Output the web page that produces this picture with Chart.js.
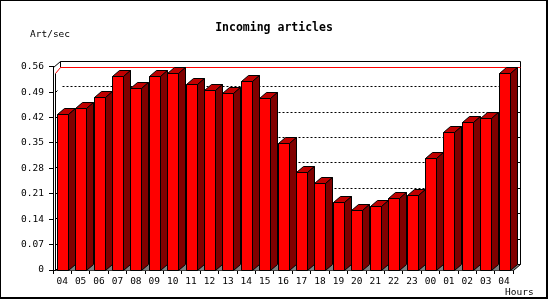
<!DOCTYPE html>
<html>
<head>
<meta charset="utf-8">
<script src="https://cdn.jsdelivr.net/npm/chart.js@4/dist/chart.umd.min.js"></script>
<style>
  html, body { margin: 0; padding: 0; background: #fff; }
  canvas { display: block; }
</style>
</head>
<body>
<canvas id="c" width="550" height="300"></canvas>
<script>
const chartTitle = 'Incoming articles';
const yAxisLabel = 'Art/sec';
const xAxisLabel = 'Hours';
const hours = ['04','05','06','07','08','09','10','11','12','13','14','15','16','17','18','19','20','21','22','23','00','01','02','03','04'];
const artPerSec = [0.429,0.445,0.477,0.535,0.500,0.535,0.542,0.511,0.496,0.487,0.520,0.473,0.351,0.269,0.241,0.186,0.164,0.175,0.197,0.206,0.308,0.379,0.407,0.420,0.542];
const yTickValues = [0,0.07,0.14,0.21,0.28,0.35,0.42,0.49,0.56];
const yTickLabels = ['0','0.07','0.14','0.21','0.28','0.35','0.42','0.49','0.56'];

const DX = 7, DY = -6;
const MONO = '"DejaVu Sans Mono", monospace';

function poly(ctx, pts, fill, stroke) {
  ctx.beginPath();
  ctx.moveTo(pts[0][0], pts[0][1]);
  for (let i = 1; i < pts.length; i++) ctx.lineTo(pts[i][0], pts[i][1]);
  ctx.closePath();
  if (fill) { ctx.fillStyle = fill; ctx.fill(); }
  if (stroke) { ctx.strokeStyle = stroke; ctx.lineWidth = 1; ctx.stroke(); }
}
function line(ctx, x1, y1, x2, y2, color) {
  ctx.beginPath();
  ctx.moveTo(x1, y1); ctx.lineTo(x2, y2);
  ctx.strokeStyle = color; ctx.lineWidth = 1; ctx.stroke();
}

const threeD = {
  id: 'threeD',
  beforeDraw(chart) {
    const ctx = chart.ctx;
    ctx.save();
    ctx.fillStyle = '#fff';
    ctx.fillRect(0, 0, chart.width, chart.height);
    ctx.restore();
  },
  beforeDatasetsDraw(chart) {
    const { ctx, chartArea: a, scales: { y } } = chart;
    const L = Math.round(a.left) + 2.5, R = Math.round(a.right) + 0.5;
    const T = Math.round(a.top) + 0.5, B = Math.round(a.bottom) + 0.5;
    ctx.save();
    // floor
    poly(ctx, [[L - 0.5, B], [R, B], [R + DX, B + DY], [L + DX, B + DY]], '#808080', null);
    // dotted grid on back wall
    ctx.setLineDash([2, 2]);
    yTickValues.slice(1, -1).forEach(v => {
      const py = Math.round(y.getPixelForValue(v) + DY) + 0.5;
      line(ctx, L + DX, py, R + DX, py, '#000');
    });
    ctx.setLineDash([]);
    // right wall ticks and left small diagonals
    yTickValues.slice(0, -1).forEach(v => {
      const py = Math.round(y.getPixelForValue(v)) + 0.5;
      line(ctx, R + DX - 3, py + DY, R + DX, py + DY, '#000');
      line(ctx, L, py, L + 2, py - 2, '#000');
    });
    // back frame
    line(ctx, L + DX - 2, T + DY, R + DX, T + DY, '#000');
    line(ctx, R + DX, T + DY, R + DX, B + DY, '#000');
    line(ctx, R, B, R + DX, B + DY, '#000');
    line(ctx, Math.round(a.left) + 0.5, T, L + DX - 2, T + DY, '#000');
    line(ctx, L + DX - 2, T + DY, L + DX - 2, T, '#000');
    // max line
    const maxV = Math.max(...artPerSec);
    const my = Math.round(y.getPixelForValue(maxV)) + 0.5;
    line(ctx, L + DX - 2, my + DY, R + DX, my + DY, '#ff0000');
    line(ctx, L, my, L + DX - 2, my + DY, '#ff0000');
    // inner left wall edge
    line(ctx, L, my, L, B, '#000');
    ctx.restore();
  },
  afterDatasetsDraw(chart) {
    const ctx = chart.ctx;
    const meta = chart.getDatasetMeta(0);
    ctx.save();
    meta.data.forEach(bar => {
      const p = bar.getProps(['x', 'y', 'base', 'width'], true);
      const l = Math.round(p.x - p.width / 2) + 0.5;
      const r = Math.round(p.x + p.width / 2) + 0.5;
      const t = Math.round(p.y) + 0.5;
      const b = Math.round(p.base) + 0.5;
      poly(ctx, [[l, t], [r, t], [r, b], [l, b]], '#ff0000', '#000');
      poly(ctx, [[l, t], [r, t], [r + DX, t + DY], [l + DX, t + DY]], '#c00000', '#000');
      poly(ctx, [[r, t], [r + DX, t + DY], [r + DX, b + DY], [r, b]], '#800000', '#000');
    });
    ctx.restore();
  },
  afterDraw(chart) {
    const ctx = chart.ctx;
    ctx.save();
    ctx.fillStyle = '#000';
    ctx.textBaseline = 'alphabetic';
    ctx.font = 'bold 11.5px ' + MONO;
    ctx.textAlign = 'center';
    ctx.fillText(chartTitle, 274, 31);
    ctx.font = '9.5px ' + MONO;
    ctx.textAlign = 'left';
    ctx.fillText(yAxisLabel, 30, 37);
    ctx.fillText(xAxisLabel, 505, 295);
    // outer frame
    ctx.fillRect(0, 0, 548, 1);
    ctx.fillRect(0, 0, 1, 299);
    ctx.fillRect(546, 0, 2, 299);
    ctx.fillRect(0, 297, 548, 2);
    ctx.restore();
  }
};

new Chart(document.getElementById('c'), {
  type: 'bar',
  data: {
    labels: hours,
    datasets: [{
      data: artPerSec,
      backgroundColor: 'rgba(0,0,0,0)',
      borderWidth: 0,
      barPercentage: 0.6,
      categoryPercentage: 1.0
    }]
  },
  options: {
    responsive: false,
    devicePixelRatio: 1,
    animation: false,
    layout: { padding: { left: 0, top: 66.7, right: 36.7, bottom: 0 } },
    plugins: { legend: { display: false }, tooltip: { enabled: false }, title: { display: false } },
    scales: {
      x: {
        offset: true,
        grid: { display: true, drawOnChartArea: false, drawTicks: true, tickLength: 4, color: '#000', offset: true },
        border: { display: true, color: '#000', width: 1 },
        ticks: { color: '#000', font: { family: MONO, size: 9.5 }, padding: 2, maxRotation: 0, autoSkip: false },
        afterFit(scale) { scale.height = 30; }
      },
      y: {
        min: 0, max: 0.56,
        afterBuildTicks(scale) { scale.ticks = yTickValues.map(v => ({ value: v })); },
        grid: { display: true, drawOnChartArea: false, drawTicks: true, tickLength: 4, color: '#000' },
        border: { display: true, color: '#000', width: 1 },
        ticks: {
          color: '#000', font: { family: MONO, size: 9.5 }, padding: 5,
          callback: (v, i) => yTickLabels[i]
        },
        afterFit(scale) { scale.width = 53; }
      }
    }
  },
  plugins: [threeD]
});
</script>
</body>
</html>
